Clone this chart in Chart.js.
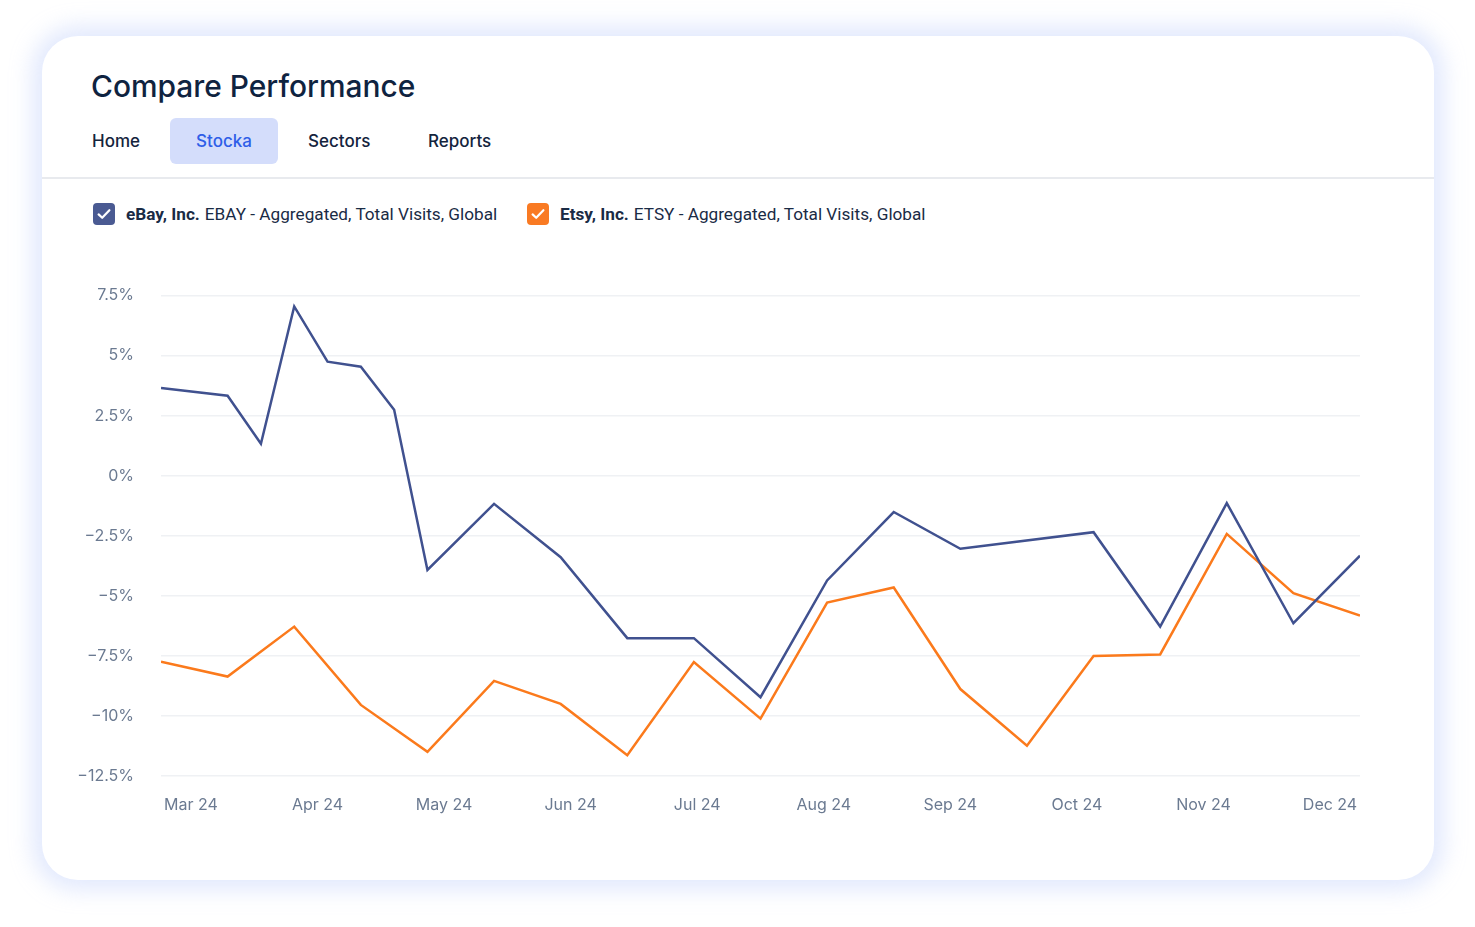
<!DOCTYPE html>
<html>
<head>
<meta charset="utf-8">
<script src="https://cdn.jsdelivr.net/npm/chart.js@4.4.1/dist/chart.umd.min.js"></script>
<style>
  html, body { margin: 0; padding: 0; background: #ffffff; width: 1475px; height: 927px; overflow: hidden; }
  .card { position: absolute; left: 42px; top: 36px; width: 1392px; height: 844px; background: #fff;
          border-radius: 36px; box-shadow: 0 0 22px 10px rgba(216, 225, 252, 0.75); }
  .title { position: absolute; left: 49px; top: 32px; font-family: Inter, sans-serif; font-size: 29.9px;
           font-weight: 500; color: #0f2340; line-height: 36px; }
  .tab { position: absolute; top: 82px; height: 46px; line-height: 46px; font-family: Inter, sans-serif;
         font-size: 17px; font-weight: 500; color: #14243d; }
  .tab.active { background: #d4ddfb; color: #2f5ee8; border-radius: 6px; width: 108px; text-align: center; }
  .divider { position: absolute; left: 0; right: 0; top: 141px; height: 2px; background: #e8eaee; }
  .legend { position: absolute; top: 167px; height: 22px; display: flex; align-items: center;
            font-family: Roboto, sans-serif; font-size: 17.2px; color: #1a2b45; white-space: nowrap; }
  .box { width: 22px; height: 22px; border-radius: 4px; margin-right: 11px; display: flex; align-items: center; justify-content: center; }
  .legend b { font-weight: 700; margin-right: 5px; }
  #wrap { position: absolute; left: 60px; top: 259px; width: 1340px; height: 557px; }
</style>
</head>
<body>
<div class="card">
  <div class="title">Compare Performance</div>
  <div class="tab" style="left:50px;">Home</div>
  <div class="tab active" style="left:128px;">Stocka</div>
  <div class="tab" style="left:266px;">Sectors</div>
  <div class="tab" style="left:386px;">Reports</div>
  <div class="divider"></div>
  <div class="legend" style="left:51px;">
    <div class="box" style="background:#4a5a92;">
      <svg width="16" height="16" viewBox="0 0 16 16"><path d="M2.6 8.4 L6.2 11.8 L13.4 4.2" fill="none" stroke="#fff" stroke-width="2.2" stroke-linecap="round" stroke-linejoin="round"/></svg>
    </div>
    <b>eBay, Inc.</b>EBAY - Aggregated, Total Visits, Global
  </div>
  <div class="legend" style="left:485px;">
    <div class="box" style="background:#f97a23;">
      <svg width="16" height="16" viewBox="0 0 16 16"><path d="M2.6 8.4 L6.2 11.8 L13.4 4.2" fill="none" stroke="#fff" stroke-width="2.2" stroke-linecap="round" stroke-linejoin="round"/></svg>
    </div>
    <b>Etsy, Inc.</b>ETSY - Aggregated, Total Visits, Global
  </div>
</div>
<div id="wrap"><canvas id="c"></canvas></div>
<script>
// ---- Data (week index from the start of the series, value in %) ----
const ebayWeeks  = [0, 2, 3, 4, 5, 6, 7, 8, 10, 12, 14, 16, 18, 20, 22, 24, 28, 30, 32, 34, 36];
const ebayValues = [3.65, 3.33, 1.33, 7.05, 4.75, 4.54, 2.75, -3.92, -1.17, -3.39, -6.76, -6.76, -9.22, -4.36, -1.51, -3.04, -2.35, -6.28, -1.14, -6.14, -3.33];

const etsyWeeks  = [0, 2, 4, 6, 8, 10, 12, 14, 16, 18, 20, 22, 24, 26, 28, 30, 32, 34, 36];
const etsyValues = [-7.74, -8.36, -6.28, -9.54, -11.49, -8.54, -9.5, -11.64, -7.76, -10.11, -5.28, -4.65, -8.88, -11.24, -7.5, -7.44, -2.42, -4.89, -5.82];

const monthLabels = ['Mar 24', 'Apr 24', 'May 24', 'Jun 24', 'Jul 24', 'Aug 24', 'Sep 24', 'Oct 24', 'Nov 24', 'Dec 24'];
const yTicks = [-12.5, -10, -7.5, -5, -2.5, 0, 2.5, 5, 7.5];

const ebayName = 'eBay, Inc. EBAY - Aggregated, Total Visits, Global';
const etsyName = 'Etsy, Inc. ETSY - Aggregated, Total Visits, Global';

// ---- Build ----
const toPoints = (xs, ys) => xs.map((x, i) => ({ x: x, y: ys[i] }));
const xMin = 0, xMax = 36;
const labelInset = 0.9;

function fmtPct(v) {
  const s = String(Math.abs(v)) + '%';
  return v < 0 ? '\u2212' + s : s;
}

new Chart(document.getElementById('c'), {
  type: 'line',
  data: {
    datasets: [
      { label: ebayName, data: toPoints(ebayWeeks, ebayValues), borderColor: '#40518f', borderWidth: 2.5,
        pointRadius: 0, tension: 0, fill: false },
      { label: etsyName, data: toPoints(etsyWeeks, etsyValues), borderColor: '#fb7a1c', borderWidth: 2.5,
        pointRadius: 0, tension: 0, fill: false }
    ]
  },
  options: {
    responsive: true,
    maintainAspectRatio: false,
    animation: false,
    layout: { padding: { top: 15, right: 40, bottom: 0, left: 0 } },
    plugins: { legend: { display: false }, tooltip: { enabled: false } },
    scales: {
      x: {
        type: 'linear', min: xMin, max: xMax,
        grid: { display: false, drawTicks: false },
        border: { display: false },
        afterBuildTicks: (scale) => {
          const n = monthLabels.length;
          const step = (xMax - xMin - 2 * labelInset) / (n - 1);
          scale.ticks = monthLabels.map((l, i) => ({ value: xMin + labelInset + i * step }));
        },
        afterFit: (scale) => { scale.height = 40; },
        ticks: {
          autoSkip: false, maxRotation: 0, minRotation: 0, padding: 20,
          color: '#6b7a91', font: { family: 'Inter', size: 16 },
          callback: (v, i) => monthLabels[i]
        }
      },
      y: {
        min: yTicks[0], max: yTicks[yTicks.length - 1],
        afterBuildTicks: (scale) => { scale.ticks = yTicks.map(v => ({ value: v })); },
        afterFit: (scale) => { scale.width = 101; },
        grid: { color: '#eff1f4', lineWidth: 1.5, drawTicks: false },
        border: { display: false },
        ticks: {
          padding: 27, color: '#6b7a91', font: { family: 'Inter', size: 16 },
          callback: (v) => fmtPct(v)
        }
      }
    }
  }
});
</script>
</body>
</html>
